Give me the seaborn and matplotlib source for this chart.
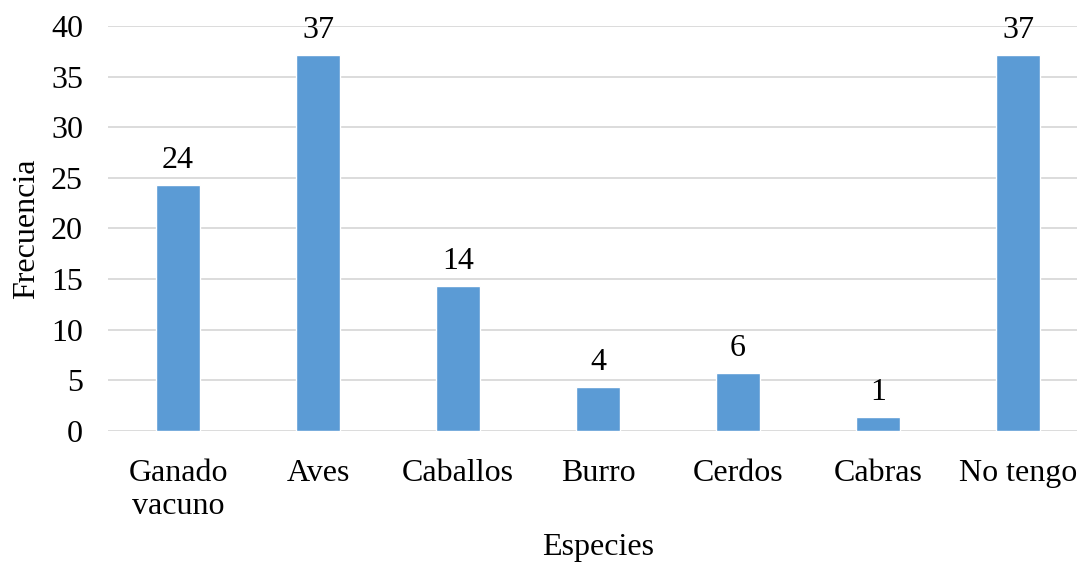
import numpy as np
import matplotlib
matplotlib.use("Agg")
import matplotlib.pyplot as plt
import seaborn as sns
import pandas as pd

especies = ["Ganado\nvacuno", "Aves", "Caballos", "Burro", "Cerdos", "Cabras", "No tengo"]
frecuencia = [24.3, 37.1, 14.3, 4.3, 5.7, 1.4, 37.1]
etiquetas = ["24", "37", "14", "4", "6", "1", "37"]
yticks = [0, 5, 10, 15, 20, 25, 30, 35, 40]

sns.set_style("white")
plt.rcParams['font.family'] = ['Liberation Serif', 'DejaVu Serif']
plt.rcParams['text.color'] = 'black'
plt.rcParams['axes.labelcolor'] = 'black'
plt.rcParams['xtick.color'] = 'black'
plt.rcParams['ytick.color'] = 'black'

df = pd.DataFrame({"Especies": especies, "Frecuencia": frecuencia})

fig = plt.figure(figsize=(10.77, 5.62), dpi=100)
ax = fig.add_axes([0.1003, 0.233, 0.91, 0.721])

for t in yticks:
    ax.axhline(t, color="#D9D9D9", lw=1.3, zorder=0)

sns.barplot(data=df, x="Especies", y="Frecuencia", color="#5B9BD5",
            saturation=1, width=0.315, ax=ax, zorder=2)

for i, (v, lab) in enumerate(zip(frecuencia, etiquetas)):
    ax.text(i, v + 1.0, lab, ha="center", va="bottom", fontsize=23)

ax.set_ylim(0, 40)
ax.set_xlim(-0.5, 6.5)
ax.set_yticks(yticks)
ax.tick_params(axis="both", labelsize=23, length=0)
ax.tick_params(axis="y", pad=18)
ax.tick_params(axis="x", pad=20)
for s in ax.spines.values():
    s.set_visible(False)
ax.set_xlabel("Especies", fontsize=23)
ax.xaxis.set_label_coords(0.5, -0.252)
ax.set_ylabel("Frecuencia", fontsize=23)
ax.yaxis.set_label_coords(-0.068, 0.5)

fig.savefig("out.png", dpi=100)
